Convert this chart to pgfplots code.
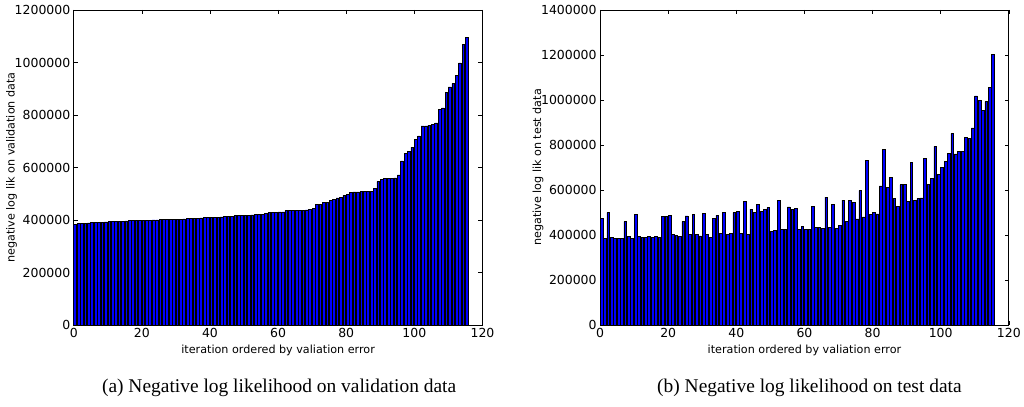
\documentclass[border=0pt]{standalone}
\usepackage{fontspec}
\setmainfont{DejaVu Sans}
\newfontfamily\capfont{Liberation Serif}
\usepackage{pgfplots}
\usepackage{pgfplotstable}
\pgfplotsset{compat=1.18}

% validation NLL, sorted by validation error
\pgfplotstableread{
v
384000
386000
387000
388000
389000
389500
390000
391000
392000
393000
394000
394500
395000
395500
396000
396500
397000
397500
398000
398500
399000
399300
399600
400000
400300
400700
401000
401500
402000
402500
403000
403500
404000
404500
405000
406000
407000
408000
408500
409000
409500
410000
411000
412000
413000
414000
415000
416000
417000
417500
418000
418500
419000
420000
421000
422000
424000
428000
429000
430000
430500
431000
435000
436000
436000
436500
437000
437500
438000
440000
445000
458000
459000
466000
468000
476000
478000
484000
486000
494000
496000
505000
507000
507000
508000
509000
509000
510000
519000
546000
555000
558000
558000
558000
560000
572000
625000
654000
661000
677000
706000
720000
758000
758000
761000
764000
770000
820000
827000
886000
907000
919000
952000
998000
1068000
1094000
}\valdata

% test NLL, same ordering
\pgfplotstableread{
v
475000
383000
499000
388000
386000
386000
383000
459000
392000
384000
490000
392000
388000
390000
394000
390000
394000
390000
481000
482000
486000
401000
397000
392000
459000
485000
401000
490000
404000
396000
496000
401000
388000
472000
487000
406000
502000
401000
406000
499000
503000
407000
550000
404000
515000
502000
537000
503000
512000
521000
416000
419000
555000
423000
423000
525000
512000
517000
423000
437000
426000
426000
527000
435000
432000
430000
568000
432000
535000
430000
441000
555000
460000
555000
544000
471000
597000
480000
730000
490000
502000
494000
618000
782000
612000
657000
561000
527000
623000
623000
549000
721000
555000
561000
565000
741000
623000
652000
794000
668000
702000
726000
763000
850000
760000
772000
772000
834000
829000
876000
1018000
999000
954000
993000
1055000
1204000
}\testdata

\pgfplotsset{
  nll axis/.style={
    scale only axis,
    width=410pt, height=316pt,
    anchor=south west,
    xmin=0, xmax=120, ymin=0,
    enlargelimits=false,
    xtick={0,20,...,120},
    minor tick num=0,
    tick align=inside,
    xtick pos=both, ytick pos=both,
    major tick length=4pt,
    tick style={black, line width=0.6pt},
    axis line style={black, line width=0.8pt},
    scaled y ticks=false,
    /pgf/number format/assume math mode=true,
    yticklabel style={/pgf/number format/fixed, /pgf/number format/1000 sep={}},
    tick label style={font=\fontsize{12.5}{14}\selectfont},
    every axis x label/.style={at={(axis description cs:0.5,-0.082)}, anchor=center,
      font=\fontsize{11.2}{13}\selectfont},
    every axis y label/.style={at={(axis description cs:-0.152,0.5)}, anchor=center, rotate=90,
      font=\fontsize{11.2}{13}\selectfont},
    xlabel={iteration ordered by valiation error},
  },
  nll bars/.style={ybar, bar width=0.8, bar shift=0pt, fill=blue, draw=black, line width=0.6pt},
}

\begin{document}
\begin{tikzpicture}[x=1pt,y=1pt]
  \path (0,0) rectangle (1024,408);

  \begin{axis}[nll axis, at={(74pt,82pt)},
    ymax=1200000, ytick={0,200000,...,1200000},
    ylabel={negative log lik on validation data}]
    \addplot[nll bars] table[x expr=\coordindex+0.4, y=v] {\valdata};
  \end{axis}

  \begin{axis}[nll axis, at={(602pt,82pt)},
    ymax=1400000, ytick={0,200000,...,1400000},
    ylabel={negative log lik on test data}]
    \addplot[nll bars] table[x expr=\coordindex+0.4, y=v] {\testdata};
  \end{axis}

  \node[font=\capfont\fontsize{19.5}{22}\selectfont] at (280,19)
    {(a) Negative log likelihood on validation data};
  \node[font=\capfont\fontsize{19.5}{22}\selectfont] at (812,19)
    {(b) Negative log likelihood on test data};
\end{tikzpicture}
\end{document}
